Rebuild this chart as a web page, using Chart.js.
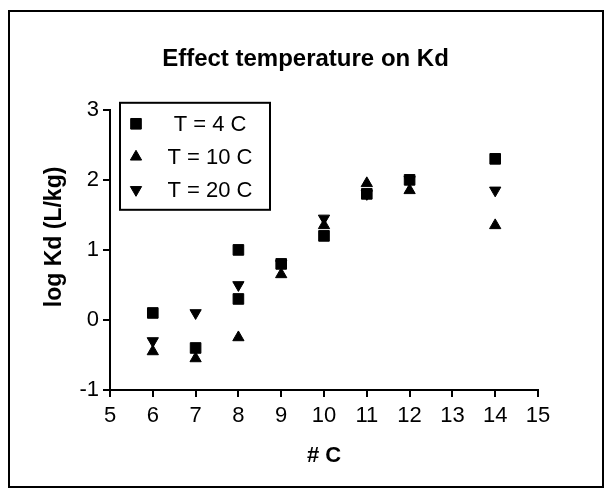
<!DOCTYPE html>
<html>
<head>
<meta charset="utf-8">
<title>Effect temperature on Kd</title>
<script src="https://cdn.jsdelivr.net/npm/chart.js@4.4.1/dist/chart.umd.min.js"></script>
<style>
  html, body { margin: 0; padding: 0; background: #fff; }
  canvas { display: block; }
</style>
</head>
<body>
<canvas id="kdChart" width="611" height="499"></canvas>
<script>
// data (# C vs log Kd)
const carbonT4 = [6, 7, 8, 8, 9, 10, 11, 12, 14];
const logKdT4 = [0.1, -0.4, 1.0, 0.3, 0.8, 1.2, 1.8, 2.0, 2.3];
const carbonT10 = [6, 7, 8, 9, 10, 11, 12, 14];
const logKdT10 = [-0.45, -0.55, -0.25, 0.65, 1.35, 1.95, 1.85, 1.35];
const carbonT20 = [6, 7, 8, 9, 10, 11, 12, 14];
const logKdT20 = [-0.3, 0.1, 0.5, 0.8, 1.45, 1.8, 2.0, 1.85];
const seriesLabels = ["T = 4 C", "T = 10 C", "T = 20 C"];
const xTickValues = [5, 6, 7, 8, 9, 10, 11, 12, 13, 14, 15];
const yTickValues = [-1, 0, 1, 2, 3];
const yAxisTitle = "log Kd (L/kg)";

const FONT = "'Liberation Sans', Arial, Helvetica, sans-serif";

const toPoints = (xs, ys) => xs.map((x, i) => ({ x: x, y: ys[i] }));

// outer frame round the whole figure
const framePlugin = {
  id: "frame",
  beforeDraw(chart) {
    const ctx = chart.ctx;
    ctx.save();
    ctx.fillStyle = "#fff";
    ctx.fillRect(0, 0, chart.width, chart.height);
    ctx.lineWidth = 2;
    ctx.strokeStyle = "#000";
    ctx.strokeRect(9, 11, 594, 476);
    ctx.restore();
  },
};

// y title sits a bit above the axis middle in the original, so draw it here
const yTitlePlugin = {
  id: "yTitle",
  afterDraw(chart) {
    const { ctx, chartArea } = chart;
    ctx.save();
    ctx.translate(chartArea.left - 55, (chartArea.top + chartArea.bottom) / 2 - 13);
    ctx.rotate(-Math.PI / 2);
    ctx.font = "bold 23px " + FONT;
    ctx.fillStyle = "#000";
    ctx.textAlign = "center";
    ctx.textBaseline = "middle";
    ctx.fillText(yAxisTitle, 0, 0);
    ctx.restore();
  },
};

// legend in a box inside the plot area
const boxedLegend = {
  id: "boxedLegend",
  afterDatasetsDraw(chart) {
    const { ctx, chartArea } = chart;
    const left = chartArea.left + 10;
    const top = chartArea.top - 7;
    ctx.save();
    ctx.fillStyle = "#fff";
    ctx.fillRect(left, top, 150, 107);
    ctx.lineWidth = 2;
    ctx.strokeStyle = "#000";
    ctx.strokeRect(left, top, 150, 107);
    ctx.font = "22px " + FONT;
    ctx.textAlign = "center";
    ctx.textBaseline = "middle";
    chart.data.datasets.forEach((ds, i) => {
      const y = top + 21 + i * 33;
      ctx.fillStyle = "#000";
      ctx.strokeStyle = "#000";
      ctx.lineWidth = 1;
      Chart.helpers.drawPoint(ctx, {
        pointStyle: ds.pointStyle,
        rotation: ds.pointRotation || 0,
        radius: ds.pointRadius,
        borderWidth: 1,
      }, left + 16, y);
      ctx.fillText(ds.label, left + 90, y + 1);
    });
    ctx.restore();
  },
};

const axisLook = {
  grid: { drawOnChartArea: false, drawTicks: true, tickLength: 7, color: "#000", lineWidth: 2 },
  border: { display: true, color: "#000", width: 2 },
};

new Chart(document.getElementById("kdChart"), {
  type: "scatter",
  data: {
    datasets: [
      {
        label: seriesLabels[0],
        data: toPoints(carbonT4, logKdT4),
        pointStyle: "rect",
        pointRadius: 7.5,
        backgroundColor: "#000",
        borderColor: "#000",
        borderWidth: 1,
      },
      {
        label: seriesLabels[1],
        data: toPoints(carbonT10, logKdT10),
        pointStyle: "triangle",
        pointRadius: 6.5,
        backgroundColor: "#000",
        borderColor: "#000",
        borderWidth: 1,
      },
      {
        label: seriesLabels[2],
        data: toPoints(carbonT20, logKdT20),
        pointStyle: "triangle",
        pointRotation: 180,
        pointRadius: 6.5,
        backgroundColor: "#000",
        borderColor: "#000",
        borderWidth: 1,
      },
    ],
  },
  options: {
    responsive: false,
    animation: false,
    devicePixelRatio: 1,
    layout: { padding: { left: 0, right: 0, top: 0, bottom: 0 } },
    plugins: {
      legend: { display: false },
      tooltip: { enabled: false },
      title: {
        display: true,
        text: "Effect temperature on Kd",
        color: "#000",
        font: { family: FONT, size: 24, weight: "bold", lineHeight: 1.2 },
        padding: { top: 45, bottom: 36 },
      },
    },
    scales: {
      x: {
        type: "linear",
        position: "bottom",
        min: 5,
        max: 15,
        afterBuildTicks: (s) => { s.ticks = xTickValues.map((v) => ({ value: v })); },
        afterFit: (s) => { s.height = 109; },
        ticks: { color: "#000", padding: 6, font: { family: FONT, size: 22 } },
        title: {
          display: true,
          text: "# C",
          color: "#000",
          font: { family: FONT, size: 22, weight: "bold", lineHeight: 1.2 },
          padding: { top: 0, bottom: 30 },
        },
        ...axisLook,
      },
      y: {
        type: "linear",
        position: "left",
        min: -1,
        max: 3,
        afterBuildTicks: (s) => { s.ticks = yTickValues.map((v) => ({ value: v })); },
        afterFit: (s) => { s.width = 110; },
        ticks: { color: "#000", padding: 4, font: { family: FONT, size: 22 } },
        ...axisLook,
      },
      // empty right-hand spacer so the plot ends at x = 15 like the original
      spacer: {
        type: "linear",
        position: "right",
        display: true,
        grid: { display: false, drawTicks: false },
        border: { display: false },
        ticks: { display: false },
        afterFit: (s) => { s.width = 73; },
      },
    },
  },
  plugins: [framePlugin, boxedLegend, yTitlePlugin],
});
</script>
</body>
</html>
